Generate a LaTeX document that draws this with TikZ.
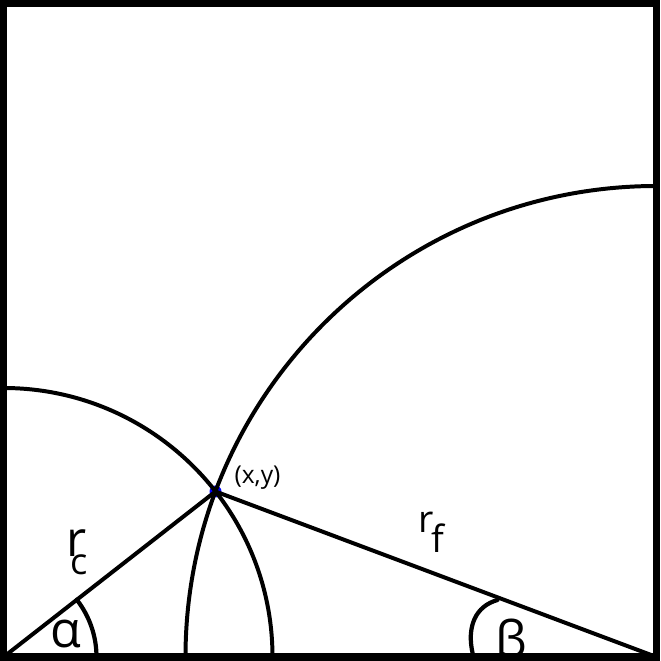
\documentclass[tikz,border=0pt]{standalone}
\usepackage{fontspec}
\setmainfont{Open Sans}
\begin{document}
\begin{tikzpicture}[x=0.03cm,y=0.03cm,
  frame/.style={line width=6pt,line join=miter},
  arcline/.style={line width=3.4pt,black},
  radline/.style={line width=3.4pt,black},
  anglemark/.style={line width=3.6pt,black,line cap=round},
  lbl/.style={inner sep=0pt,anchor=base west}]
\useasboundingbox (0,0) rectangle (660,661);
\coordinate (O) at (3.5,4);
\coordinate (R) at (656.5,4);
\coordinate (P) at (215.5,169.5);
% point
\fill[blue] (P) circle (6);
% arcs
\draw[arcline] (O) ++(90:269) arc[start angle=90,end angle=0,radius=269];
\draw[arcline] (R) ++(90:471) arc[start angle=90,end angle=180,radius=471];
% radii
\draw[radline] (O) -- (P);
\draw[radline] (P) -- (R);
% angle marks
\draw[anglemark] (O) ++(0:93) arc[start angle=0,end angle=38,radius=93];
\coordinate (b1) at (497.5,61);
\coordinate (b2) at (473,6);
\draw[anglemark] (b1) .. controls (476,55) and (466,35) .. (b2);
% labels
\node[lbl,font=\fontsize{21pt}{24pt}\selectfont,anchor=center] (xy) at (257.5,183) {(x,y)};
\node[lbl] (rc) at (66,104) {\makebox[0pt][l]{\fontsize{42pt}{48pt}\selectfont r}\hspace{3.4pt}\raisebox{-15.3pt}{\fontsize{31pt}{34pt}\selectfont c}};
\node[lbl] (rf) at (418.5,128) {\makebox[0pt][l]{\fontsize{32pt}{36pt}\selectfont r}\hspace{10.6pt}\raisebox{-17pt}{\fontsize{32pt}{36pt}\selectfont f}};
\node[lbl,font=\fontsize{43pt}{48pt}\selectfont] (al) at (50,13) {α};
\node[lbl,font=\fontsize{43pt}{48pt}\selectfont] (be) at (495,4) {β};
% frame
\draw[frame] (3.5,4) rectangle (656.5,657.5);
\end{tikzpicture}
\end{document}
